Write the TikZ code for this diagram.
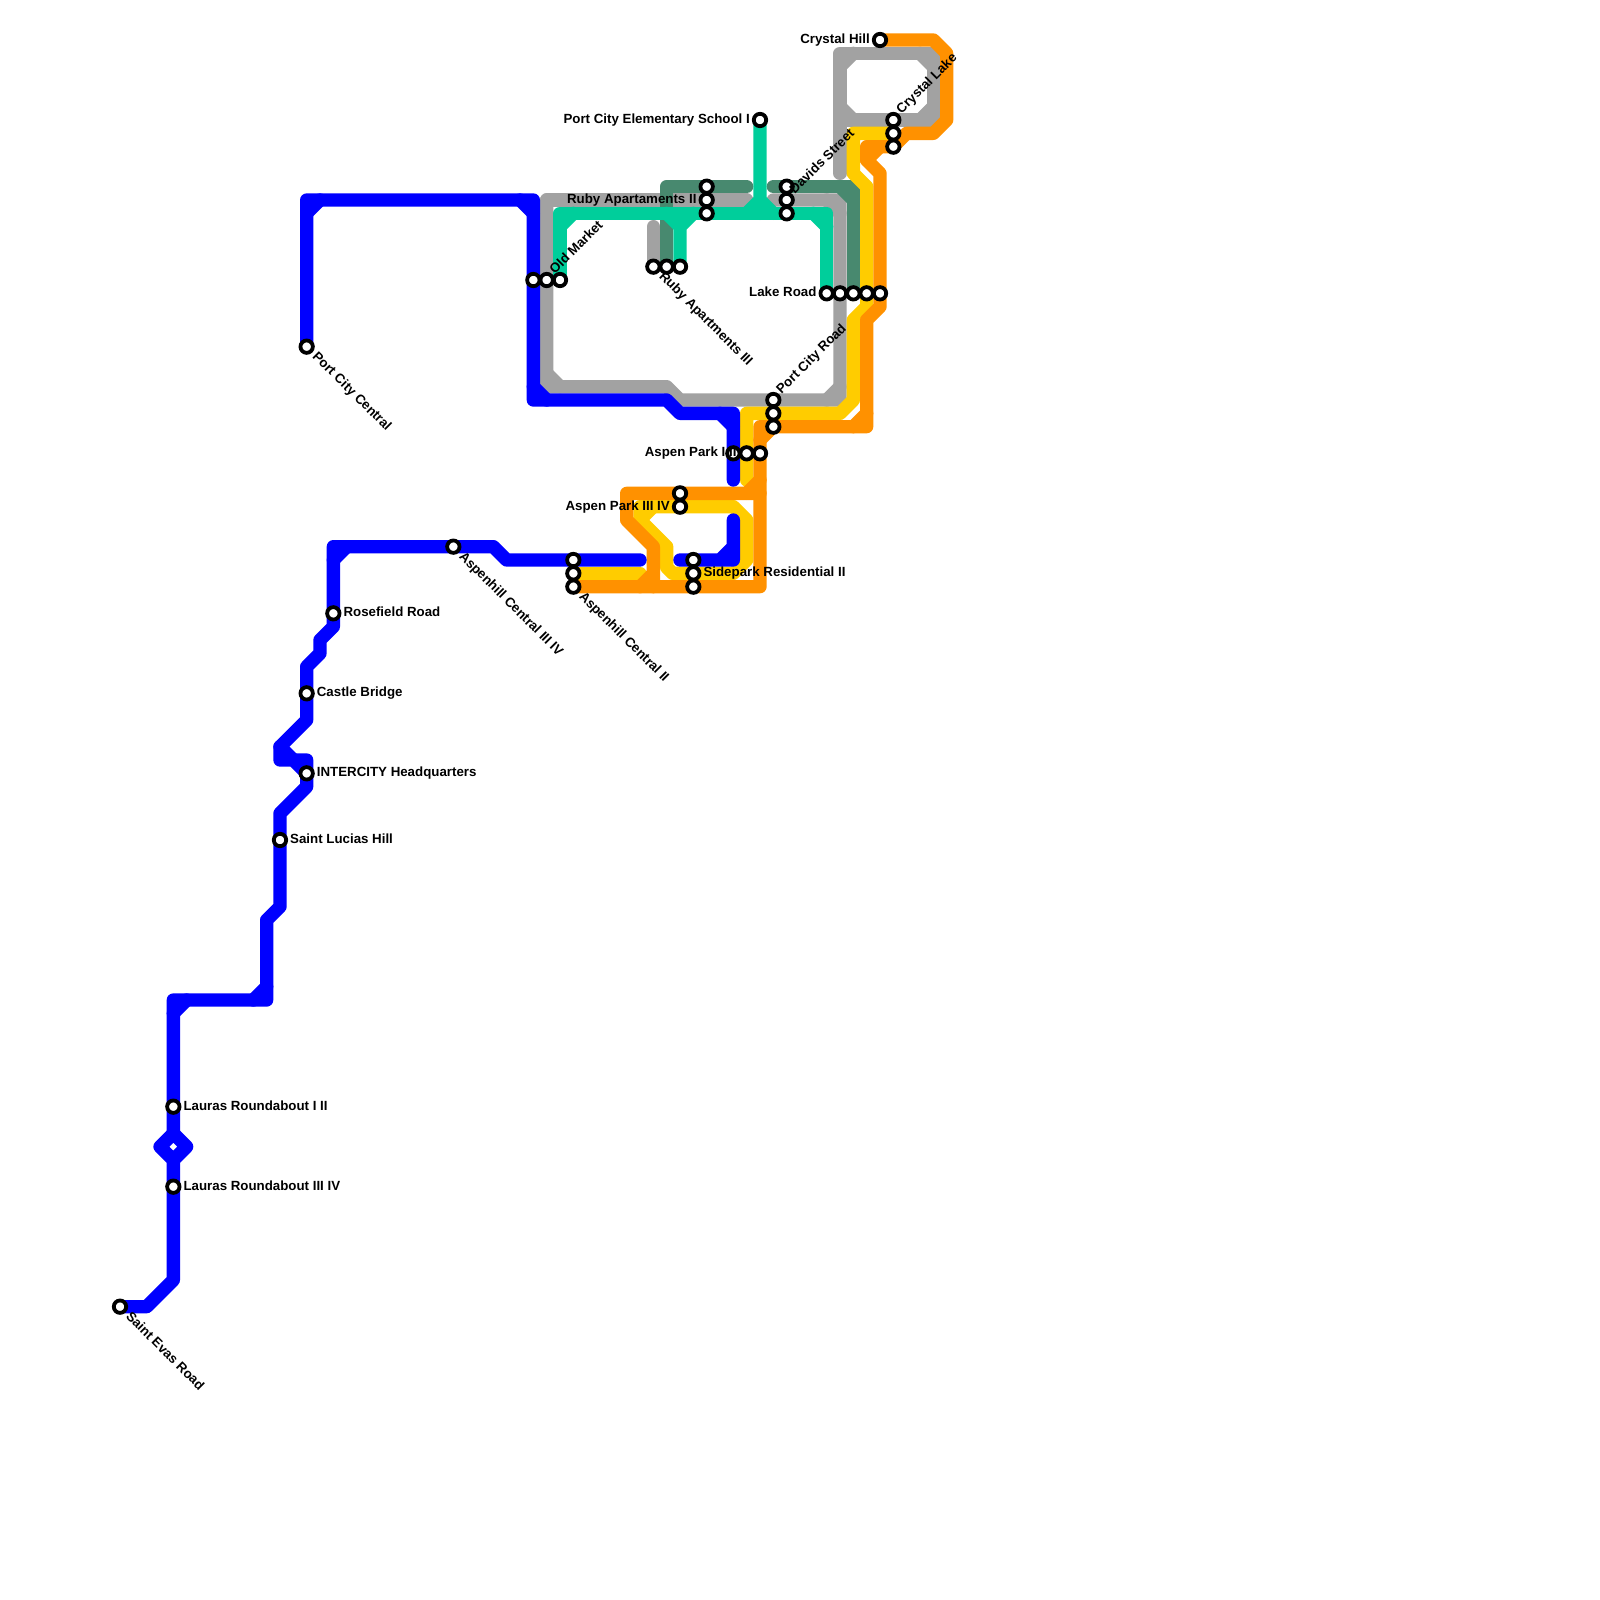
\documentclass[tikz,border=0pt]{standalone}
\usepackage{fontspec}
\setmainfont{Liberation Sans}
\definecolor{lblue}{HTML}{0000FF}
\definecolor{lgray}{HTML}{A2A2A2}
\definecolor{lteal}{HTML}{00CE9B}
\definecolor{ldark}{HTML}{48896F}
\definecolor{lyellow}{HTML}{FFCC00}
\definecolor{lorange}{HTML}{FF9100}
\tikzset{
 metro/.style={line width=13.33pt,line cap=round,line join=round},
 stn/.style={circle,draw=black,fill=white,line width=3.8pt,minimum size=12.4pt,inner sep=0pt},
 lbl/.style={inner sep=0pt,font=\fontsize{13.3}{15}\selectfont\bfseries,text=black},
 lblE/.style={lbl,anchor=base west,xshift=10pt,yshift=-3.4pt},
 lblW/.style={lbl,anchor=base east,xshift=-10pt,yshift=-3.4pt},
 lblUp/.style={lbl,anchor=base west,rotate=45,xshift=9.5pt,yshift=-2pt},
 lblDn/.style={lbl,anchor=base west,rotate=-45,xshift=11pt,yshift=-3.7pt},
}
\begin{document}
\begin{tikzpicture}[x=13.3333pt,y=-13.3333pt]
\useasboundingbox (0,0) rectangle (120,120);
\fill[white] (0,0) rectangle (120,120);
% station positions
\coordinate (evas) at (9,98);\coordinate (lauA) at (13,83);\coordinate (lauB) at (13,89);
\coordinate (lucia) at (21,63);\coordinate (inter) at (23,58);\coordinate (castle) at (23,52);
\coordinate (rose) at (25,46);\coordinate (aspIII) at (34,41);\coordinate (pcc) at (23,26);
\coordinate (omA) at (40,21);\coordinate (omB) at (41,21);\coordinate (omC) at (42,21);
\coordinate (acA) at (43,42);\coordinate (acB) at (43,43);\coordinate (acC) at (43,44);
\coordinate (raA) at (49,20);\coordinate (raB) at (50,20);\coordinate (raC) at (51,20);
\coordinate (rbA) at (53,14);\coordinate (rbB) at (53,15);\coordinate (rbC) at (53,16);
\coordinate (dsA) at (59,14);\coordinate (dsB) at (59,15);\coordinate (dsC) at (59,16);
\coordinate (pce) at (57,9);
\coordinate (lrA) at (62,22);\coordinate (lrB) at (63,22);\coordinate (lrC) at (64,22);\coordinate (lrD) at (65,22);\coordinate (lrE) at (66,22);
\coordinate (chill) at (66,3);
\coordinate (clA) at (67,9);\coordinate (clB) at (67,10);\coordinate (clC) at (67,11);
\coordinate (pcA) at (58,30);\coordinate (pcB) at (58,31);\coordinate (pcC) at (58,32);
\coordinate (apA) at (55,34);\coordinate (apB) at (56,34);\coordinate (apC) at (57,34);
\coordinate (aqA) at (51,37);\coordinate (aqB) at (51,38);
\coordinate (spA) at (52,42);\coordinate (spB) at (52,43);\coordinate (spC) at (52,44);
% gray
\draw[metro,lgray] (41,15)--(56,15);
\draw[metro,lgray] (58,15)--(63,15)--(63,30)--(51,30)--(50,29)--(41,29)--(41,15);
\draw[metro,lgray] (62,15)--(63,16) (63,29)--(62,30) (41,28)--(42,29);
\draw[metro,lgray] (49,17)--(raA);
\draw[metro,lgray] (63,13)--(63,4)--(70,4)--(70,9)--(63,9);
\draw[metro,lgray] (63,5)--(64,4) (69,4)--(70,5) (70,8)--(69,9) (63,8)--(64,9);
% dark green
\draw[metro,ldark] (56,14)--(50,14)--(raB);
\draw[metro,ldark] (58,14)--(64,14)--(lrC);
\draw[metro,ldark] (63,14)--(64,15);
% teal
\draw[metro,lteal] (omC)--(42,16)--(62,16)--(lrA);
\draw[metro,lteal] (42,17)--(43,16) (61,16)--(62,17);
\draw[metro,lteal] (pce)--(57,16) (56,16)--(57,15)--(58,16);
\draw[metro,lteal] (raC)--(51,17)--(52,16) (50,16)--(51,17);
% yellow
\draw[metro,lyellow] (clB)--(64,10)--(64,13)--(65,14)--(65,23)--(64,24)--(64,30)--(63,31)--(56,31)--(56,36);
\draw[metro,lyellow] (55,38)--(48,38)--(48,39)--(50,41)--(50,42.55)--(50.45,43)--(55,43)--(56,42)--(56,39)--(55,38);
\draw[metro,lyellow] (48,39)--(49,38);
\draw[metro,lyellow] (acB)--(48,43);
% orange
\draw[metro,lorange] (chill)--(70,3)--(71,4)--(71,9)--(70,10)--(68,10)--(67,11)--(65,11)--(65,12)--(66,13)--(66,23)--(65,24)--(65,32)--(57,32)--(57,44)--(acC);
\draw[metro,lorange] (66,11)--(65,12) (58,32)--(57,33) (64,32)--(65,31);
\draw[metro,lorange] (57,37)--(47,37)--(47,39)--(49,41)--(49,44);
\draw[metro,lorange] (56,37)--(57,36) (48,44)--(49,43);
% blue
\draw[metro,lblue] (evas)--(11,98)--(13,96)--(13,87)--(12,86)--(13,85)--(14,86)--(13,87);
\draw[metro,lblue] (13,85)--(13,75)--(20,75)--(20,69)--(21,68)--(21,61)--(23,59)--(23,57)--(22,57);
\draw[metro,lblue] (23,58)--(22,57)--(21,57)--(21,56)--(23,54)--(23,50)--(24,49)--(24,48)--(25,47)--(25,41)--(37,41)--(38,42)--(48,42);
\draw[metro,lblue] (21,56)--(22,57);
\draw[metro,lblue] (13,76)--(14,75) (19,75)--(20,74) (25,42)--(26,41);
\draw[metro,lblue] (pcc)--(23,15)--(40,15)--(40,30)--(50,30)--(51,31)--(55,31)--(55,36);
\draw[metro,lblue] (23,16)--(24,15) (39,15)--(40,16) (40,29)--(41,30) (54,31)--(55,32);
\draw[metro,lblue] (51,42)--(55,42)--(55,39) (54,42)--(55,41);
% stations
\foreach \s in {evas,lauA,lauB,lucia,inter,castle,rose,aspIII,pcc,omA,omB,omC,acA,acB,acC,raA,raB,raC,rbA,rbB,rbC,dsA,dsB,dsC,pce,lrA,lrB,lrC,lrD,lrE,chill,clA,clB,clC,pcA,pcB,pcC,apA,apB,apC,aqA,aqB,spA,spB,spC}
  {\node[stn] (st-\s) at (\s) {};}
% labels
\node[lblDn] (t1) at (st-evas.center) {Saint Evas Road};
\node[lblE] (t2) at (st-lauA.center) {Lauras Roundabout I II};
\node[lblE] (t3) at (st-lauB.center) {Lauras Roundabout III IV};
\node[lblE] (t4) at (st-lucia.center) {Saint Lucias Hill};
\node[lblE] (t5) at (st-inter.center) {INTERCITY Headquarters};
\node[lblE] (t6) at (st-castle.center) {Castle Bridge};
\node[lblE] (t7) at (st-rose.center) {Rosefield Road};
\node[lblDn] (t8) at (st-aspIII.center) {Aspenhill Central III IV};
\node[lblDn] (t9) at (st-pcc.center) {Port City Central};
\node[lblUp] (t10) at (st-omB.center) {Old Market};
\node[lblDn] (t11) at (st-acC.center) {Aspenhill Central II};
\node[lblDn] (t12) at (st-raA.center) {Ruby Apartments III};
\node[lblW] (t13) at (st-rbB.center) {Ruby Apartaments II};
\node[lblUp] (t14) at (st-dsB.center) {Davids Street};
\node[lblW] (t15) at (st-pce.center) {Port City Elementary School I};
\node[lblW] (t16) at (st-lrA.center) {Lake Road};
\node[lblW] (t17) at (st-chill.center) {Crystal Hill};
\node[lblUp] (t18) at (st-clA.center) {Crystal Lake};
\node[lblUp] (t19) at (st-pcA.center) {Port City Road};
\node[lblW] (t20) at (st-apB.center) {Aspen Park I II};
\node[lblW] (t21) at (st-aqB.center) {Aspen Park III IV};
\node[lblE] (t22) at (st-spB.center) {Sidepark Residential II};
\end{tikzpicture}
\end{document}
